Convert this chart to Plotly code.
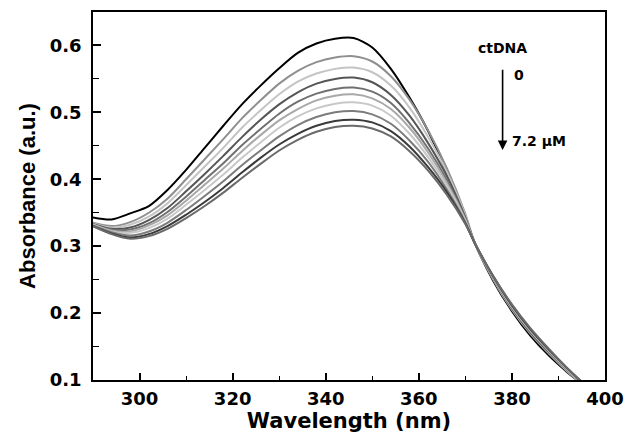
import plotly.graph_objects as go

wavelength = [290, 294, 298, 302, 306, 310, 314, 318, 322, 326, 330, 334, 338, 342,
              346, 350, 354, 358, 362, 366, 370, 372, 376, 380, 384, 388, 392, 396]

abs_0 = [0.343, 0.340, 0.349, 0.360, 0.384, 0.414, 0.447, 0.480, 0.512, 0.540, 0.566, 0.589, 0.603, 0.610,
         0.611, 0.597, 0.565, 0.522, 0.472, 0.410, 0.343, 0.305, 0.248, 0.203, 0.166, 0.136, 0.111, 0.089]
abs_1 = [0.335, 0.330, 0.336, 0.350, 0.371, 0.400, 0.430, 0.460, 0.491, 0.518, 0.543, 0.562, 0.575, 0.582,
         0.584, 0.576, 0.554, 0.519, 0.473, 0.417, 0.348, 0.305, 0.250, 0.205, 0.169, 0.139, 0.112, 0.088]
abs_2 = [0.334, 0.328, 0.332, 0.344, 0.364, 0.391, 0.419, 0.447, 0.477, 0.503, 0.527, 0.546, 0.558, 0.565,
         0.567, 0.560, 0.540, 0.507, 0.463, 0.411, 0.346, 0.305, 0.251, 0.206, 0.170, 0.140, 0.113, 0.088]
abs_3 = [0.333, 0.326, 0.328, 0.339, 0.357, 0.382, 0.408, 0.435, 0.463, 0.489, 0.512, 0.530, 0.543, 0.550,
         0.552, 0.545, 0.526, 0.495, 0.454, 0.405, 0.343, 0.305, 0.252, 0.207, 0.171, 0.141, 0.114, 0.089]
abs_4 = [0.333, 0.325, 0.325, 0.334, 0.351, 0.374, 0.399, 0.424, 0.451, 0.475, 0.498, 0.516, 0.528, 0.535,
         0.537, 0.531, 0.514, 0.484, 0.446, 0.399, 0.341, 0.305, 0.252, 0.209, 0.173, 0.142, 0.114, 0.089]
abs_5 = [0.332, 0.323, 0.322, 0.331, 0.346, 0.368, 0.392, 0.416, 0.442, 0.466, 0.488, 0.505, 0.518, 0.525,
         0.527, 0.521, 0.505, 0.477, 0.440, 0.395, 0.340, 0.305, 0.253, 0.209, 0.173, 0.143, 0.115, 0.090]
abs_6 = [0.332, 0.322, 0.320, 0.327, 0.341, 0.362, 0.384, 0.407, 0.432, 0.455, 0.477, 0.494, 0.506, 0.513,
         0.515, 0.510, 0.495, 0.468, 0.433, 0.391, 0.338, 0.305, 0.253, 0.210, 0.174, 0.144, 0.115, 0.090]
abs_7 = [0.331, 0.321, 0.316, 0.322, 0.335, 0.354, 0.375, 0.397, 0.421, 0.443, 0.464, 0.481, 0.493, 0.500,
         0.502, 0.497, 0.483, 0.458, 0.426, 0.385, 0.336, 0.305, 0.254, 0.211, 0.175, 0.145, 0.116, 0.090]
abs_8 = [0.330, 0.319, 0.313, 0.318, 0.330, 0.347, 0.366, 0.387, 0.410, 0.432, 0.452, 0.468, 0.480, 0.487,
         0.489, 0.485, 0.472, 0.449, 0.418, 0.381, 0.334, 0.305, 0.255, 0.212, 0.176, 0.145, 0.117, 0.091]
abs_9 = [0.330, 0.318, 0.311, 0.315, 0.326, 0.342, 0.360, 0.380, 0.402, 0.423, 0.443, 0.459, 0.471, 0.478,
         0.480, 0.476, 0.464, 0.442, 0.413, 0.377, 0.333, 0.305, 0.255, 0.213, 0.177, 0.146, 0.117, 0.091]

series = [abs_0, abs_1, abs_2, abs_3, abs_4, abs_5, abs_6, abs_7, abs_8, abs_9]
colors = ["#000000", "#8f8f8f", "#c4c4c4", "#555555", "#707070",
          "#a8a8a8", "#c8c8c8", "#7c7c7c", "#3a3a3a", "#6a6a6a"]

x_ticks = [300, 320, 340, 360, 380, 400]
y_ticks = [0.1, 0.2, 0.3, 0.4, 0.5, 0.6]

fig = go.Figure()
for ys, c in zip(series, colors):
    fig.add_trace(go.Scatter(x=wavelength, y=ys, mode="lines",
                             line=dict(color=c, width=2, shape="spline", smoothing=0.8),
                             showlegend=False, hoverinfo="skip"))

tickfont = dict(family="DejaVu Sans", size=18, color="#000000", weight="bold")
fig.update_xaxes(range=[290, 400], tickvals=x_ticks, ticktext=[str(v) for v in x_ticks],
                 ticks="inside", ticklen=7, tickwidth=1.5, tickcolor="#000",
                 minor=dict(dtick=10, tick0=290, ticks="inside", ticklen=4, tickwidth=1.2, tickcolor="#000"),
                 showline=True, linecolor="#000", linewidth=1.6, mirror=True, automargin=False,
                 showgrid=False, zeroline=False, tickfont=tickfont, ticklabelstandoff=2,
                 title=dict(text="Wavelength (nm)", standoff=1,
                            font=dict(family="DejaVu Sans", size=21, color="#000", weight="bold")))
fig.update_yaxes(range=[0.1, 0.65], tickvals=y_ticks, ticktext=["%.1f" % v for v in y_ticks],
                 ticks="inside", ticklen=8, tickwidth=1.5, tickcolor="#000",
                 minor=dict(dtick=0.05, tick0=0.1, ticks="inside", ticklen=6, tickwidth=1.2, tickcolor="#000"),
                 showline=True, linecolor="#000", linewidth=1.6, mirror=True, automargin=False,
                 showgrid=False, zeroline=False, tickfont=tickfont, ticklabelstandoff=6,
                 title=dict(text="Absorbance (a.u.)", standoff=8,
                            font=dict(family="Liberation Sans", size=22, color="#000", weight="bold")))

annfont = dict(family="DejaVu Sans", size=14, color="#000", weight="bold")
fig.add_annotation(x=378.0, y=0.4436, ax=378.0, ay=0.566, xref="x", yref="y", axref="x", ayref="y",
                   text="", showarrow=True, arrowhead=2, arrowsize=1.2, arrowwidth=1.6, arrowcolor="#000")
fig.add_annotation(x=377.9, y=0.596, text="ctDNA", showarrow=False, font=annfont, xanchor="center")
fig.add_annotation(x=380.0, y=0.556, text="0", showarrow=False, font=annfont, xanchor="left")
fig.add_annotation(x=379.5, y=0.4567, text="7.2 µM", showarrow=False, font=annfont, xanchor="left")

fig.update_layout(width=624, height=440, margin=dict(l=93, r=19, t=12, b=60),
                  plot_bgcolor="#ffffff", paper_bgcolor="#ffffff")
fig.write_html("out.html", config={"displayModeBar": False},
               post_script="document.body.style.margin='0px';document.body.style.padding='0px';")
